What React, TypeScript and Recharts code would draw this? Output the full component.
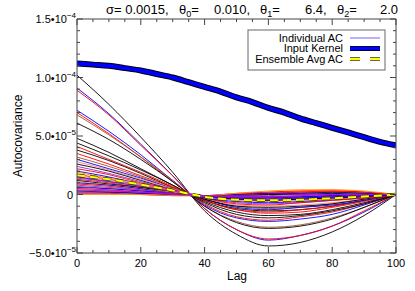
import { LineChart, Line, XAxis, YAxis } from "recharts";

// values are in units of 1e-5
const LAGS = [0, 10, 20, 30, 40, 50, 60, 70, 80, 90, 100];
const KERNEL_LAGS = [0, 5, 10, 15, 20, 25, 30, 35, 40, 45, 50, 55, 60, 65, 70, 75, 80, 85, 90, 95, 100];
const KERNEL = [11.2, 11.1, 11.0, 10.8, 10.6, 10.3, 10.0, 9.6, 9.2, 8.8, 8.3, 7.9, 7.4, 7.0, 6.5, 6.1, 5.7, 5.3, 4.9, 4.5, 4.2];
const ENSEMBLE = [1.65, 1.3, 0.85, 0.35, -0.2, -0.45, -0.5, -0.45, -0.33, -0.18, 0];

const INDIVIDUAL = [
  [10.2, 7.7, 4.9, 1.9, -1.4, -3.4, -4.4, -4.1, -3.2, -1.8, 0],
  [9.1, 6.9, 4.3, 1.6, -1.2, -3.0, -3.9, -3.5, -2.7, -1.5, 0],
  [8.9, 6.8, 4.2, 1.6, -1.2, -3.0, -3.8, -3.5, -2.7, -1.4, 0],
  [7.2, 5.4, 3.4, 1.2, -0.9, -2.0, -2.3, -2.1, -1.7, -0.9, 0],
  [7.0, 5.2, 3.2, 1.1, -0.8, -1.9, -2.2, -1.9, -1.5, -0.8, 0],
  [6.8, 5.1, 3.2, 1.2, -1.0, -2.3, -2.8, -2.6, -2.0, -1.1, 0],
  [6.1, 4.7, 3.0, 1.1, -1.0, -2.4, -2.9, -2.7, -2.1, -1.1, 0],
  [4.8, 3.6, 2.2, 0.8, -0.6, -1.5, -1.8, -1.7, -1.3, -0.7, 0],
  [4.4, 3.3, 2.1, 0.8, -0.7, -1.7, -2.0, -1.8, -1.4, -0.8, 0],
  [4.1, 3.0, 1.9, 0.7, -0.5, -1.3, -1.6, -1.5, -1.1, -0.6, 0],
  [3.8, 2.9, 1.8, 0.6, -0.5, -1.2, -1.4, -1.3, -1.0, -0.5, 0],
  [3.5, 2.6, 1.6, 0.6, -0.5, -1.3, -1.5, -1.3, -1.0, -0.5, 0],
  [3.2, 2.4, 1.5, 0.5, -0.4, -1.0, -1.2, -1.1, -0.8, -0.4, 0],
  [3.0, 2.2, 1.4, 0.5, -0.4, -1.1, -1.3, -1.1, -0.9, -0.5, 0],
  [2.8, 2.1, 1.3, 0.5, -0.3, -0.9, -1.0, -0.9, -0.7, -0.4, 0],
  [2.6, 2.0, 1.2, 0.4, -0.4, -1.0, -1.1, -1.0, -0.8, -0.4, 0],
  [2.4, 1.8, 1.1, 0.4, -0.3, -0.7, -0.8, -0.7, -0.5, -0.3, 0],
  [2.2, 1.7, 1.0, 0.4, -0.3, -0.8, -0.9, -0.7, -0.5, -0.3, 0],
  [2.0, 1.5, 0.9, 0.3, -0.3, -0.6, -0.7, -0.6, -0.4, -0.2, 0],
  [1.9, 1.4, 0.9, 0.3, -0.2, -0.5, -0.6, -0.5, -0.4, -0.2, 0],
  [1.7, 1.3, 0.8, 0.3, -0.2, -0.4, -0.5, -0.4, -0.3, -0.1, 0],
  [1.6, 1.2, 0.8, 0.3, -0.2, -0.4, -0.5, -0.4, -0.3, -0.2, 0],
  [1.5, 1.1, 0.7, 0.2, -0.2, -0.3, -0.4, -0.3, -0.2, -0.1, 0],
  [1.4, 1.1, 0.7, 0.3, -0.1, -0.3, -0.3, -0.2, -0.1, 0.0, 0],
  [1.3, 1.0, 0.6, 0.2, -0.2, -0.3, -0.3, -0.2, -0.1, 0.0, 0],
  [1.2, 0.9, 0.6, 0.2, -0.2, -0.4, -0.5, -0.4, -0.3, -0.2, 0],
  [1.1, 0.8, 0.5, 0.2, -0.1, -0.1, 0.0, 0.1, 0.1, 0.1, 0],
  [1.0, 0.8, 0.5, 0.1, -0.2, -0.3, -0.3, -0.3, -0.2, -0.1, 0],
  [0.9, 0.7, 0.4, 0.1, -0.1, -0.1, 0.0, 0.1, 0.2, 0.1, 0],
  [0.8, 0.6, 0.4, 0.1, -0.2, -0.2, -0.2, -0.1, -0.1, 0.0, 0],
  [0.7, 0.5, 0.3, 0.1, -0.1, 0.0, 0.1, 0.2, 0.2, 0.1, 0],
  [0.6, 0.5, 0.3, 0.1, -0.1, -0.2, -0.2, -0.2, -0.1, 0.0, 0],
  [0.5, 0.4, 0.2, 0.0, -0.1, 0.0, 0.2, 0.3, 0.4, 0.2, 0],
  [0.4, 0.3, 0.2, 0.0, -0.1, 0.0, 0.1, 0.2, 0.3, 0.2, 0],
  [0.3, 0.2, 0.1, 0.0, -0.1, -0.1, 0.0, 0.0, 0.1, 0.0, 0],
  [0.2, 0.2, 0.1, 0.0, -0.1, 0.0, 0.1, 0.1, 0.2, 0.1, 0],
  [0.1, 0.1, 0.0, -0.1, -0.1, 0.1, 0.2, 0.3, 0.3, 0.2, 0],
  [0.0, 0.0, 0.0, -0.1, -0.1, 0.1, 0.3, 0.4, 0.4, 0.3, 0],
  [0.3, 0.3, 0.2, 0.0, -0.1, -0.1, -0.1, 0.0, 0.0, 0.0, 0],
  [0.5, 0.4, 0.2, 0.1, -0.1, -0.2, -0.2, -0.1, 0.0, 0.0, 0],
];

const LINE_COLORS = [
  "#000000", "#0000ff", "#ff0000", "#0000ff", "#ff0000", "#a0522d", "#000000", "#000000",
  "#000000", "#ff0000", "#000000", "#ff0000", "#a0522d", "#0000ff", "#ff8080", "#000000",
  "#8a2be2", "#ff0000", "#0000ff", "#ff8c00", "#ff0000", "#ff8080", "#0000ff", "#8a2be2",
  "#ff0000", "#000000", "#ff8c00", "#0000ff", "#ff0000", "#8a2be2", "#a0522d", "#0000ff",
  "#ff8c00", "#ff0000", "#000000", "#0000ff", "#ff0000", "#ff8c00", "#8a2be2", "#cc00cc",
];

const X_TICKS = [0, 5, 10, 15, 20, 25, 30, 35, 40, 45, 50, 55, 60, 65, 70, 75, 80, 85, 90, 95, 100];
const Y_TICKS_E5 = [-5, -4, -3, -2, -1, 0, 1, 2, 3, 4, 5, 6, 7, 8, 9, 10, 11, 12, 13, 14, 15];
const Y_LABELS: Record<number, [string, string]> = {
  [-5]: ["\u22125.0\u202210", "\u22125"],
  0: ["0", ""],
  5: ["5.0\u202210", "\u22125"],
  10: ["1.0\u202210", "\u22124"],
  15: ["1.5\u202210", "\u22124"],
};

const W = 415;
const H = 291;
const PL = 77;
const PR = 396;
const PT = 19;
const PB = 253;
const AXIS = "#444";
const FONT = "'Liberation Sans', Arial, Helvetica, sans-serif";

const toPoints = (lags: number[], vals: number[]) =>
  lags.map((lag, i) => ({ lag, v: vals[i] * 1e-5 }));

const XTickBottom = (props: any) => {
  const { x, payload } = props;
  const major = payload.value % 20 === 0;
  return (
    <g>
      <line x1={x} x2={x} y1={PB} y2={PB - (major ? 6 : 3)} stroke={AXIS} />
      {major && (
        <text x={x} y={267} textAnchor="middle" fontSize={11} fontFamily={FONT} fill="#000">
          {payload.value}
        </text>
      )}
    </g>
  );
};

const XTickTop = (props: any) => {
  const { x, payload } = props;
  const major = payload.value % 20 === 0;
  return <line x1={x} x2={x} y1={PT} y2={PT + (major ? 6 : 3)} stroke={AXIS} />;
};

const YTickLeft = (props: any) => {
  const { y, payload } = props;
  const k = Math.round(payload.value * 1e5);
  const major = k % 5 === 0;
  const lab = Y_LABELS[k];
  return (
    <g>
      <line x1={PL} x2={PL + (major ? 6 : 3)} y1={y} y2={y} stroke={AXIS} />
      {major && lab && (
        <text
          x={k === 0 ? PL - 4 : PL - 1}
          y={y + 4}
          textAnchor="end"
          fontSize={11}
          fontFamily={FONT}
          fill="#000"
        >
          {lab[0]}
          {lab[1] && (
            <tspan dy={-5} fontSize={8}>
              {lab[1]}
            </tspan>
          )}
        </text>
      )}
    </g>
  );
};

const YTickRight = (props: any) => {
  const { y, payload } = props;
  const k = Math.round(payload.value * 1e5);
  const major = k % 5 === 0;
  return <line x1={PR} x2={PR - (major ? 6 : 3)} y1={y} y2={y} stroke={AXIS} />;
};

const Theta = ({ x, sub }: { x: number; sub: string }) => (
  <text x={x} y={14}>
    θ<tspan dy={3} fontSize={9}>{sub}</tspan>
    <tspan dy={-3}>=</tspan>
  </text>
);

export default function App() {
  const yTicks = Y_TICKS_E5.map((k) => k * 1e-5);
  const kernelData = toPoints(KERNEL_LAGS, KERNEL);
  const ensembleData = toPoints(LAGS, ENSEMBLE);
  return (
    <div style={{ position: "absolute", left: 0, top: 0, width: W, height: H, background: "#fff" }}>
      <LineChart width={W} height={H} margin={{ top: 0, right: 0, bottom: 0, left: 0 }}>
        <XAxis
          dataKey="lag"
          type="number"
          domain={[0, 100]}
          ticks={X_TICKS}
          interval={0}
          height={H - PB}
          tickLine={false}
          axisLine={{ stroke: AXIS }}
          tick={XTickBottom}
          allowDataOverflow
        />
        <XAxis
          xAxisId="t"
          orientation="top"
          dataKey="lag"
          type="number"
          domain={[0, 100]}
          ticks={X_TICKS}
          interval={0}
          height={PT}
          tickLine={false}
          axisLine={{ stroke: AXIS }}
          tick={XTickTop}
          allowDataOverflow
        />
        <YAxis
          type="number"
          domain={[-5e-5, 1.5e-4]}
          ticks={yTicks}
          interval={0}
          width={PL}
          tickLine={false}
          axisLine={{ stroke: AXIS }}
          tick={YTickLeft}
          allowDataOverflow
        />
        <YAxis
          yAxisId="r"
          orientation="right"
          type="number"
          domain={[-5e-5, 1.5e-4]}
          ticks={yTicks}
          interval={0}
          width={W - PR}
          tickLine={false}
          axisLine={{ stroke: AXIS }}
          tick={YTickRight}
          allowDataOverflow
        />
        {INDIVIDUAL.map((vals, i) => (
          <Line
            key={"ind" + i}
            data={toPoints(LAGS, vals)}
            dataKey="v"
            type="monotone"
            stroke={LINE_COLORS[i % LINE_COLORS.length]}
            strokeWidth={0.9}
            dot={false}
            isAnimationActive={false}
          />
        ))}
        <Line data={kernelData} dataKey="v" type="monotone" stroke="#000" strokeWidth={6} dot={false} isAnimationActive={false} />
        <Line data={kernelData} dataKey="v" type="monotone" stroke="#0000ff" strokeWidth={4} dot={false} isAnimationActive={false} />
        <Line data={ensembleData} dataKey="v" type="monotone" stroke="#3a3a00" strokeWidth={3.5} strokeDasharray="8 5" dot={false} isAnimationActive={false} />
        <Line data={ensembleData} dataKey="v" type="monotone" stroke="#ffff00" strokeWidth={2} strokeDasharray="8 5" dot={false} isAnimationActive={false} />
      </LineChart>
      <svg
        width={W}
        height={H}
        style={{ position: "absolute", left: 0, top: 0, pointerEvents: "none" }}
        fontFamily={FONT}
      >
        <g fontSize={13} fill="#000">
          <text x={106} y={14}>σ= 0.0015,</text>
          <Theta x={179} sub="0" />
          <text x={214} y={14}>0.010,</text>
          <Theta x={260} sub="1" />
          <text x={305} y={14}>6.4,</text>
          <Theta x={337} sub="2" />
          <text x={398} y={14} textAnchor="end">2.0</text>
        </g>
        <text x={237} y={280} textAnchor="middle" fontSize={12}>Lag</text>
        <text x={22} y={PT + (PB - PT) / 2} textAnchor="middle" fontSize={12} transform={`rotate(-90 22 ${PT + (PB - PT) / 2})`}>
          Autocovariance
        </text>
        <rect x={248} y={30} width={137} height={40} fill="#fff" stroke="#666" />
        <g fontSize={11} textAnchor="end">
          <text x={343} y={41.5}>Individual AC</text>
          <text x={343} y={52}>Input Kernel</text>
          <text x={343} y={62.5}>Ensemble Avg AC</text>
        </g>
        <line x1={350} x2={380} y1={38} y2={38} stroke="#7a5cff" strokeWidth={1} />
        <line x1={350} x2={380} y1={48.5} y2={48.5} stroke="#000" strokeWidth={5} />
        <line x1={350} x2={380} y1={48.5} y2={48.5} stroke="#0000ff" strokeWidth={3.5} />
        <line x1={350} x2={380} y1={59} y2={59} stroke="#3a3a00" strokeWidth={3.5} strokeDasharray="10 10" />
        <line x1={350} x2={380} y1={59} y2={59} stroke="#ffff00" strokeWidth={2} strokeDasharray="10 10" />
      </svg>
    </div>
  );
}
